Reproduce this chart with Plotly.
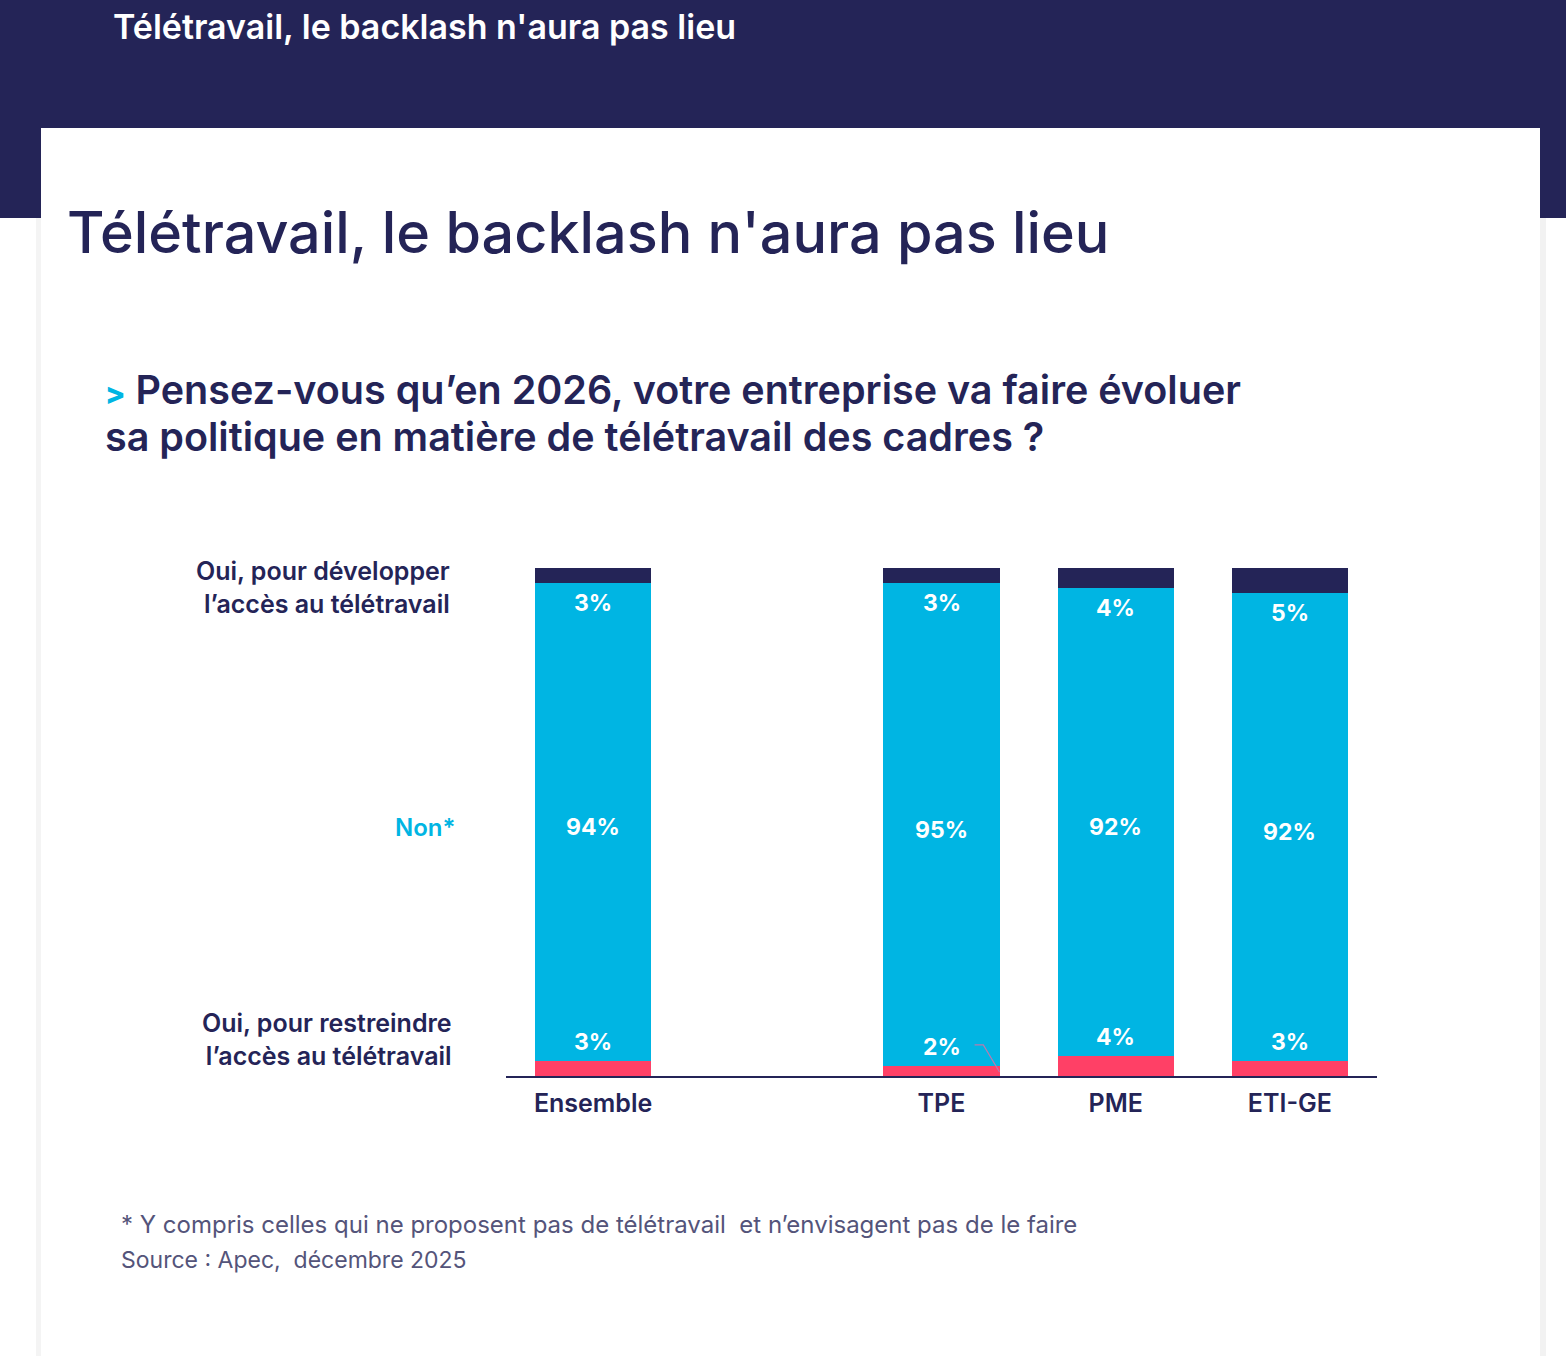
import plotly.graph_objects as go

# ---------------- data ----------------
categories = ["Ensemble", "TPE", "PME", "ETI-GE"]
cat_pos = [0, 2, 3, 4]
oui_restreindre = [3, 2, 4, 3]
non = [94, 95, 92, 92]
oui_developper = [3, 3, 4, 5]

series_names = ["Oui, pour restreindre l’accès au télétravail", "Non*",
                "Oui, pour développer l’accès au télétravail"]

NAVY = "#242457"
CYAN = "#00B5E3"
RED = "#FF4066"
GREY_TXT = "#54547A"
FONT = "Inter"

W, H = 1566, 1356


def px(x):
    return x / W


def py(y):
    return 1 - y / H


fig = go.Figure()
for vals, name, col in [(oui_restreindre, series_names[0], RED),
                        (non, series_names[1], CYAN),
                        (oui_developper, series_names[2], NAVY)]:
    fig.add_trace(go.Bar(x=cat_pos, y=vals, name=name, width=0.667,
                         marker=dict(color=col, line=dict(width=0)),
                         hoverinfo="skip"))

annotations = []
# labels inside bars
for i, p in enumerate(cat_pos):
    top = oui_restreindre[i] + non[i]
    annotations.append(dict(x=p, y=top, xref="x", yref="y", text=f"{oui_developper[i]}%",
                            showarrow=False, yanchor="middle", yshift=-20,
                            font=dict(family=FONT, size=23, color="white", weight=700)))
    annotations.append(dict(x=p, y=oui_restreindre[i] + non[i] / 2, xref="x", yref="y",
                            text=f"{non[i]}%", showarrow=False, yanchor="middle", yshift=-5,
                            font=dict(family=FONT, size=23, color="white", weight=700)))
    annotations.append(dict(x=p, y=oui_restreindre[i], xref="x", yref="y",
                            text=f"{oui_restreindre[i]}%", showarrow=False, yanchor="middle",
                            yshift=19,
                            font=dict(family=FONT, size=23, color="white", weight=700)))

# row labels on the left
annotations += [
    dict(x=px(452), y=py(587), xref="paper", yref="paper", xanchor="right", yanchor="middle",
         align="right", showarrow=False,
         text="Oui, pour développer<br>l’accès au télétravail",
         font=dict(family=FONT, size=25, color=NAVY, weight=600)),
    dict(x=px(457), y=py(827), xref="paper", yref="paper", xanchor="right", yanchor="middle",
         showarrow=False, text="Non*",
         font=dict(family=FONT, size=24, color=CYAN, weight=600)),
    dict(x=px(454), y=py(1039), xref="paper", yref="paper", xanchor="right", yanchor="middle",
         align="right", showarrow=False,
         text="Oui, pour restreindre<br>l’accès au télétravail",
         font=dict(family=FONT, size=25, color=NAVY, weight=600)),
]

# titles
annotations += [
    dict(x=px(111), y=py(27), xref="paper", yref="paper", xanchor="left", yanchor="middle",
         showarrow=False, text="Télétravail, le backlash n'aura pas lieu",
         font=dict(family=FONT, size=34, color="white", weight=600)),
    dict(x=px(65), y=py(232), xref="paper", yref="paper", xanchor="left", yanchor="middle",
         showarrow=False, text="Télétravail, le backlash n'aura pas lieu",
         font=dict(family=FONT, size=57.5, color=NAVY, weight=500)),
    dict(x=px(103), y=py(390), xref="paper", yref="paper", xanchor="left", yanchor="middle",
         showarrow=False,
         text=f"<span style='color:{CYAN};font-size:30px;font-weight:800'>&gt;</span> Pensez-vous qu’en 2026, votre entreprise va faire évoluer",
         font=dict(family=FONT, size=39.5, color=NAVY, weight=600)),
    dict(x=px(103), y=py(437), xref="paper", yref="paper", xanchor="left", yanchor="middle",
         showarrow=False,
         text="sa politique en matière de télétravail des cadres ?",
         font=dict(family=FONT, size=39.5, color=NAVY, weight=600)),
    dict(x=px(119), y=py(1224), xref="paper", yref="paper", xanchor="left", yanchor="middle",
         showarrow=False,
         text="* Y compris celles qui ne proposent pas de télétravail  et n’envisagent pas de le faire",
         font=dict(family=FONT, size=24, color=GREY_TXT)),
    dict(x=px(119), y=py(1260), xref="paper", yref="paper", xanchor="left", yanchor="middle",
         showarrow=False, text="Source : Apec,  décembre 2025",
         font=dict(family=FONT, size=23, color=GREY_TXT)),
]

shapes = [
    dict(type="rect", xref="paper", yref="paper", x0=0, x1=1, y0=py(218), y1=1,
         fillcolor=NAVY, line=dict(width=0), layer="below"),
    dict(type="rect", xref="paper", yref="paper", x0=px(36), x1=px(41), y0=0, y1=py(218),
         fillcolor="#F4F4F4", line=dict(width=0), layer="below"),
    dict(type="rect", xref="paper", yref="paper", x0=px(1540), x1=px(1546), y0=0, y1=py(218),
         fillcolor="#F2F2F2", line=dict(width=0), layer="below"),
    dict(type="rect", xref="paper", yref="paper", x0=px(41), x1=px(1540), y0=0, y1=py(128),
         fillcolor="white", line=dict(width=0), layer="below"),
]

# leader line for the TPE bottom label
i_tpe = categories.index("TPE")
p = cat_pos[i_tpe]
unit_px = 508 / 100  # pixels per percentage point on the y axis
y_lab = oui_restreindre[i_tpe] + 21 / unit_px
shapes.append(dict(type="path", xref="x", yref="y",
                   path=f"M {p+0.19},{y_lab} L {p+0.24},{y_lab} L {p+0.333},{oui_restreindre[i_tpe]*0.4}",
                   line=dict(color="#B97AAE", width=1.2)))

fig.update_layout(
    width=W, height=H,
    margin=dict(l=0, r=0, t=0, b=0),
    paper_bgcolor="white", plot_bgcolor="rgba(0,0,0,0)",
    barmode="stack", bargap=0, showlegend=False,
    xaxis=dict(domain=[px(506), px(1377)], range=[-0.5, 4.5], tickvals=cat_pos,
               ticktext=categories, showgrid=False, zeroline=False, showline=True,
               linecolor=NAVY, linewidth=2, ticks="outside", ticklen=4, tickcolor="rgba(0,0,0,0)",
               tickfont=dict(family=FONT, size=25, color=NAVY, weight=600), fixedrange=True),
    yaxis=dict(domain=[py(1076), py(568)], range=[0, 100], visible=False, fixedrange=True),
    annotations=annotations, shapes=shapes,
)

fig.write_html("out.html", config={"displayModeBar": False},
               post_script="document.body.style.margin='0px';document.body.style.overflow='hidden';")
